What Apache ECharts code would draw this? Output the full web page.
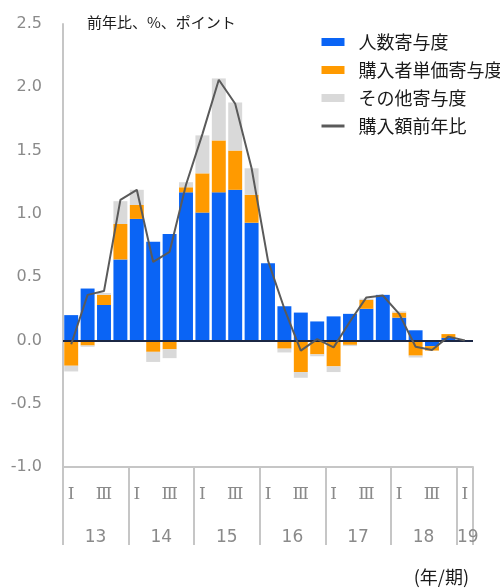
<!DOCTYPE html>
<html>
<head>
<meta charset="utf-8">
<script src="https://cdn.jsdelivr.net/npm/echarts@6/dist/echarts.min.js"></script>
<style>
  html, body { margin: 0; padding: 0; background: #ffffff; }
  #chart { width: 500px; height: 588px; }
</style>
</head>
<body>
<div id="chart"></div>
<script>
// Quarterly periods, 2013 Q1 – 2019 Q1
const quarters = [
  '13Q1','13Q2','13Q3','13Q4',
  '14Q1','14Q2','14Q3','14Q4',
  '15Q1','15Q2','15Q3','15Q4',
  '16Q1','16Q2','16Q3','16Q4',
  '17Q1','17Q2','17Q3','17Q4',
  '18Q1','18Q2','18Q3','18Q4',
  '19Q1'
];

// Quarter marks shown under the bars
const quarterMarks = [
  'Ⅰ','','Ⅲ','',
  'Ⅰ','','Ⅲ','',
  'Ⅰ','','Ⅲ','',
  'Ⅰ','','Ⅲ','',
  'Ⅰ','','Ⅲ','',
  'Ⅰ','','Ⅲ','',
  'Ⅰ'
];

// Year groups on the second axis row
const years = ['13', '14', '15', '16', '17', '18', '19'];
const quartersPerYear = [4, 4, 4, 4, 4, 4, 1];

// Value axis ticks
const yTickLabels = ['-1.0', '-0.5', '0.0', '0.5', '1.0', '1.5', '2.0', '2.5'];

// Contributions (percentage points)
const headcountContrib = [
  0.20, 0.41, 0.28, 0.64,
  0.96, 0.78, 0.84, 1.17,
  1.01, 1.17, 1.19, 0.93,
  0.61, 0.27, 0.22, 0.15,
  0.19, 0.21, 0.25, 0.36,
  0.18, 0.08, -0.045, 0.02,
  -0.01
];
const unitPriceContrib = [
  -0.20, -0.04, 0.08, 0.28,
  0.11, -0.09, -0.07, 0.04,
  0.31, 0.41, 0.31, 0.22,
  0.00, -0.065, -0.25, -0.11,
  -0.205, -0.035, 0.07, 0.00,
  0.04, -0.12, -0.035, 0.03,
  0.00
];
const otherContrib = [
  -0.045, -0.01, 0.015, 0.18,
  0.12, -0.08, -0.07, 0.04,
  0.30, 0.49, 0.38, 0.21,
  0.00, -0.03, -0.045, -0.015,
  -0.045, -0.01, 0.01, 0.00,
  0.01, -0.015, 0.00, 0.00,
  0.00
];
// Purchase amount, year-on-year (%)
const purchaseYoY = [
  -0.03, 0.36, 0.39, 1.11,
  1.19, 0.62, 0.70, 1.23,
  1.63, 2.06, 1.87, 1.36,
  0.63, 0.25, -0.08, 0.01,
  -0.055, 0.15, 0.34, 0.355,
  0.21, -0.05, -0.075, 0.03,
  0.00
];

const seriesNames = ['人数寄与度', '購入者単価寄与度', 'その他寄与度', '購入額前年比'];

// Year boundaries and the index where each year label sits
const yearStarts = [];
const yearLabelAt = {};
let acc = 0;
years.forEach(function (y, k) {
  yearStarts.push(acc);
  const n = quartersPerYear[k];
  yearLabelAt[acc + Math.floor((n - 1) / 2)] = { text: y, full: n > 1 };
  acc += n;
});

const AXIS_GRAY = '#c6c6c6';
const LABEL_GRAY = '#8a8a8a';
const LINE_GRAY = '#5a5a5a';
const CJK = '"Noto Sans CJK JP", "Noto Sans", sans-serif';

const chart = echarts.init(document.getElementById('chart'), null, { renderer: 'canvas' });

chart.setOption({
  backgroundColor: '#ffffff',
  animation: false,
  title: [
    {
      text: '前年比、%、ポイント',
      left: 82,
      top: 10,
      textStyle: { fontSize: 15, fontWeight: 'normal', color: '#1a1a1a', fontFamily: CJK }
    },
    {
      text: '(年/期)',
      right: 26,
      top: 563,
      textStyle: { fontSize: 18, fontWeight: 'normal', color: '#1a1a1a', fontFamily: CJK }
    }
  ],
  legend: {
    data: [
      { name: seriesNames[0], icon: 'rect' },
      { name: seriesNames[1], icon: 'rect' },
      { name: seriesNames[2], icon: 'rect' },
      { name: seriesNames[3], itemStyle: { opacity: 0 }, lineStyle: { width: 3, color: LINE_GRAY } }
    ],
    orient: 'vertical',
    left: 315,
    top: 28,
    itemWidth: 23,
    itemHeight: 8,
    itemGap: 10,
    formatter: '{n|{name}}',
    textStyle: {
      color: '#1a1a1a',
      fontSize: 18,
      fontFamily: CJK,
      rich: { n: { padding: [0, 0, 0, 9], fontSize: 18, fontFamily: CJK, color: '#1a1a1a' } }
    }
  },
  grid: { left: 63, right: 27, top: 24, bottom: 121, containLabel: false },
  xAxis: [
    {
      type: 'category',
      data: quarters,
      position: 'bottom',
      axisLine: { show: true, onZero: false, lineStyle: { color: AXIS_GRAY, width: 2 } },
      axisTick: { show: false },
      axisLabel: {
        interval: 0,
        margin: 19,
        color: LABEL_GRAY,
        fontSize: 17,
        fontFamily: '"DejaVu Serif", serif',
        formatter: function (v, i) { return quarterMarks[i]; }
      },
      splitLine: { show: false }
    },
    {
      type: 'category',
      data: quarters,
      position: 'bottom',
      axisLine: { show: false, onZero: false },
      axisTick: {
        show: true,
        alignWithLabel: false,
        inside: false,
        length: 78,
        interval: function (i) { return yearStarts.indexOf(i) >= 0; },
        lineStyle: { color: AXIS_GRAY, width: 2 }
      },
      axisLabel: {
        interval: 0,
        margin: 62,
        color: LABEL_GRAY,
        fontSize: 17,
        fontFamily: '"DejaVu Sans", sans-serif',
        formatter: function (v, i) {
          const y = yearLabelAt[i];
          if (!y) return '';
          return y.full ? '{a|' + y.text + '}' : '{b|' + y.text + '}';
        },
        rich: {
          a: { padding: [0, 0, 0, 16], fontSize: 17, color: LABEL_GRAY, fontFamily: '"DejaVu Sans", sans-serif' },
          b: { padding: [0, 0, 0, 6], fontSize: 17, color: LABEL_GRAY, fontFamily: '"DejaVu Sans", sans-serif' }
        }
      },
      splitLine: { show: false }
    }
  ],
  yAxis: {
    type: 'value',
    min: -1,
    max: 2.5,
    interval: 0.5,
    axisLine: { show: true, lineStyle: { color: AXIS_GRAY, width: 2 } },
    axisTick: { show: false },
    splitLine: { show: false },
    axisLabel: {
      margin: 21,
      color: LABEL_GRAY,
      fontSize: 16,
      fontFamily: '"DejaVu Sans", sans-serif',
      formatter: function (v) {
        const idx = Math.round((v + 1) / 0.5);
        return yTickLabels[idx];
      }
    }
  },
  series: [
    {
      name: seriesNames[0],
      type: 'bar',
      stack: 'contrib',
      data: headcountContrib,
      barCategoryGap: '15%',
      itemStyle: { color: '#0a64f5' }
    },
    {
      name: seriesNames[1],
      type: 'bar',
      stack: 'contrib',
      data: unitPriceContrib,
      itemStyle: { color: '#ff9a00' }
    },
    {
      name: seriesNames[2],
      type: 'bar',
      stack: 'contrib',
      data: otherContrib,
      itemStyle: { color: '#d9d9d9' },
      markLine: {
        silent: true,
        symbol: ['none', 'none'],
        label: { show: false },
        lineStyle: { color: '#1b2744', width: 2, type: 'solid' },
        data: [{ yAxis: 0 }]
      }
    },
    {
      name: seriesNames[3],
      type: 'line',
      data: purchaseYoY,
      symbol: 'none',
      z: 5,
      lineStyle: { color: LINE_GRAY, width: 2 },
      itemStyle: { color: LINE_GRAY }
    }
  ]
});
</script>
</body>
</html>
